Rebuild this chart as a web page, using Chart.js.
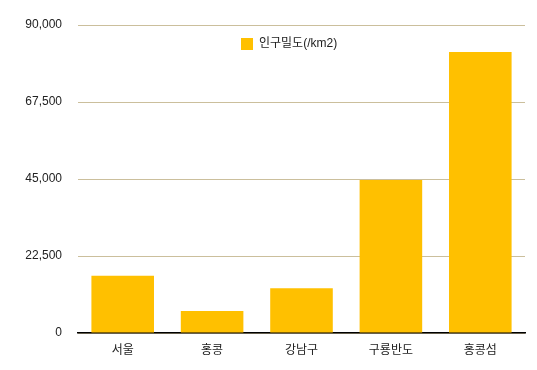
<!DOCTYPE html>
<html lang="ko">
<head>
    <meta charset="UTF-8">
    <title>인구밀도</title>
    <script src="https://cdn.jsdelivr.net/npm/chart.js"></script>
    <style>
        html, body {
            margin: 0;
            background: #fff;
        }
        #wrap {
            width: 537px;
            height: 370px;
        }
    </style>
</head>
<body>
    <div id="wrap">
        <canvas id="chart" width="537" height="370"></canvas>
    </div>
    <script>
        const categories = ['서울', '홍콩', '강남구', '구룡반도', '홍콩섬'];
        const seriesName = '인구밀도(/km2)';
        const density = [16700, 6400, 13100, 44700, 82100];
        const yTicks = [0, 22500, 45000, 67500, 90000];

        const fontFamily = '"Liberation Sans", Arial, "Noto Sans CJK KR", sans-serif';

        // legend sits inside the plot, near the top, a bit left of centre
        const legendInPlot = {
            id: 'legendInPlot',
            afterLayout(chart) {
                const lg = chart.legend;
                const area = chart.chartArea;
                const pad = lg.options.labels.padding;
                const w = lg.width, h = lg.height;
                lg.left = area.left + 163 - pad;
                lg.top = area.top + 13 - pad;
                lg.right = lg.left + w;
                lg.bottom = lg.top + h;
            }
        };

        new Chart(document.getElementById('chart').getContext('2d'), {
            type: 'bar',
            data: {
                labels: categories,
                datasets: [{
                    label: seriesName,
                    data: density,
                    backgroundColor: '#ffc000',
                    borderWidth: 0,
                    barPercentage: 0.7,
                    categoryPercentage: 1.0
                }]
            },
            plugins: [legendInPlot],
            options: {
                responsive: false,
                animation: false,
                layout: {
                    padding: { top: 25, right: 12, left: 0, bottom: 0 }
                },
                plugins: {
                    legend: {
                        position: 'chartArea',
                        align: 'start',
                        labels: {
                            boxWidth: 12,
                            boxHeight: 12,
                            padding: 8,
                            color: '#222',
                            font: { family: fontFamily, size: 12 }
                        }
                    },
                    tooltip: { enabled: false }
                },
                scales: {
                    x: {
                        grid: { display: false },
                        border: { display: true, color: '#000', width: 1.5 },
                        ticks: {
                            color: '#222',
                            padding: 2,
                            font: { family: fontFamily, size: 12 }
                        },
                        afterFit: function (scale) { scale.height = 37; }
                    },
                    y: {
                        min: 0,
                        max: 90000,
                        afterBuildTicks: function (scale) {
                            scale.ticks = yTicks.map(v => ({ value: v }));
                        },
                        grid: {
                            color: '#cbbf9c',
                            lineWidth: 1,
                            drawTicks: false
                        },
                        border: { display: false },
                        ticks: {
                            color: '#222',
                            padding: 16,
                            font: { family: fontFamily, size: 12 },
                            callback: v => v.toLocaleString('en-US')
                        },
                        afterFit: function (scale) { scale.width = 78; }
                    }
                }
            }
        });
    </script>
</body>
</html>
